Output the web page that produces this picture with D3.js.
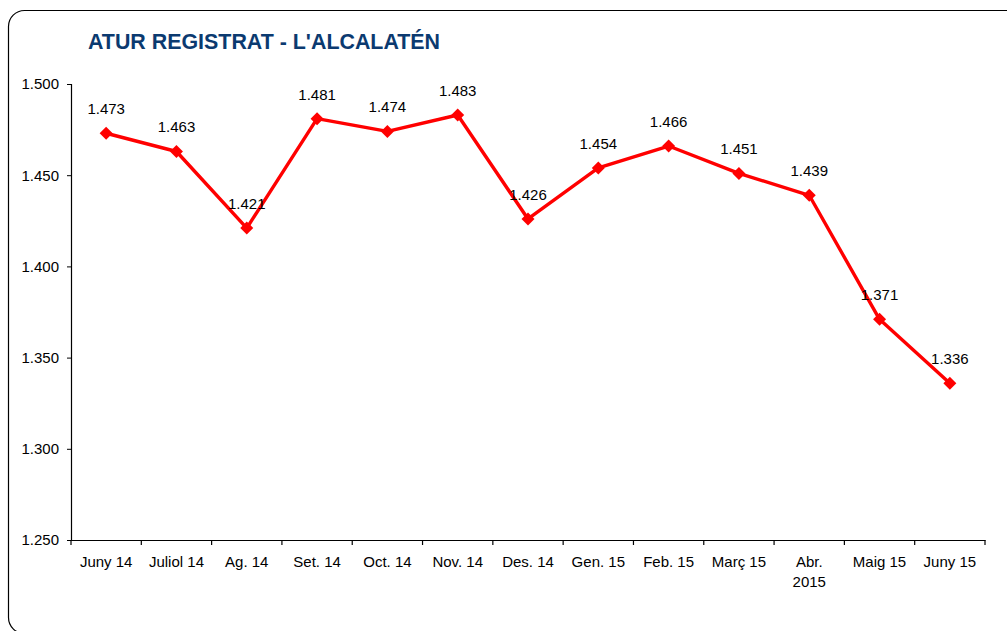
<!doctype html>
<html lang="ca">
<head>
  <meta charset="utf-8">
  <title>Atur registrat - L'Alcalatén</title>
  <script src="https://d3js.org/d3.v7.min.js"></script>
  <style>
    body { margin: 0; background: #fff; }
    text { font-family: "Liberation Sans", Arial, sans-serif; fill: #000; }
  </style>
</head>
<body>
  <svg id="chart" width="1007" height="631"></svg>
  <script>
    // Data
    const months = ["Juny 14", "Juliol 14", "Ag. 14", "Set. 14", "Oct. 14", "Nov. 14", "Des. 14",
      "Gen. 15", "Feb. 15", "Març 15", "Abr. 2015", "Maig 15", "Juny 15"];
    const atur = [1473, 1463, 1421, 1481, 1474, 1483, 1426, 1454, 1466, 1451, 1439, 1371, 1336];
    const yTicks = [1250, 1300, 1350, 1400, 1450, 1500];

    const svg = d3.select("#chart");
    const plotLeft = 71, plotRight = 985, plotTop = 84, plotBottom = 540;

    // Frame with rounded corners (runs off the right edge)
    svg.append("rect")
      .attr("x", 8.5).attr("y", 10.5)
      .attr("width", 1020).attr("height", 623)
      .attr("rx", 16)
      .attr("fill", "none").attr("stroke", "#000").attr("stroke-width", 1.2);

    svg.append("text")
      .attr("x", 88).attr("y", 49)
      .style("font-size", "21.4px").style("font-weight", "bold").style("fill", "#0b3a70")
      .text("ATUR REGISTRAT - L'ALCALATÉN");

    const x = d3.scaleBand().domain(months).range([plotLeft, plotRight]);
    const y = d3.scaleLinear().domain([1250, 1500]).range([plotBottom, plotTop]);
    const loc = d3.formatLocale({ decimal: ",", thousands: ".", grouping: [3], currency: ["", "€"] });
    const fmt = loc.format(",d");

    // Y axis
    const yAxis = svg.append("g")
      .attr("transform", `translate(${plotLeft},0)`)
      .call(d3.axisLeft(y).tickValues(yTicks).tickFormat(fmt).tickSize(4).tickPadding(8));
    yAxis.select(".domain").attr("stroke", "#000").attr("stroke-width", 1.2);
    yAxis.selectAll("text").style("font-size", "15px");

    // X axis
    const xAxis = svg.append("g")
      .attr("transform", `translate(0,${plotBottom})`)
      .call(d3.axisBottom(x).tickSize(0).tickPadding(16));
    xAxis.select(".domain").attr("stroke", "#000").attr("stroke-width", 1.2);
    xAxis.selectAll("text").style("font-size", "15px");
    // split "Abr. 2015" into two lines
    xAxis.selectAll(".tick text").each(function (d) {
      if (d === "Abr. 2015") {
        const t = d3.select(this).text(null);
        t.append("tspan").attr("x", 0).text("Abr.");
        t.append("tspan").attr("x", 0).attr("dy", "1.33em").text("2015");
      }
    });
    // boundary ticks on x axis
    svg.append("g").selectAll("line")
      .data(months.map(m => x(m)).concat([plotRight]))
      .join("line")
      .attr("x1", d => d).attr("x2", d => d)
      .attr("y1", plotBottom).attr("y2", plotBottom + 5)
      .attr("stroke", "#000").attr("stroke-width", 1.2);

    // Line
    const cx = m => x(m) + x.bandwidth() / 2;
    const line = d3.line().x((d, i) => cx(months[i])).y(d => y(d));
    svg.append("path")
      .datum(atur)
      .attr("d", line)
      .attr("fill", "none")
      .attr("stroke", "#ff0000")
      .attr("stroke-width", 3.4)
      .attr("stroke-linejoin", "round");

    // Diamond markers
    svg.append("g").selectAll("path")
      .data(atur)
      .join("path")
      .attr("transform", (d, i) => `translate(${cx(months[i])},${y(d)})`)
      .attr("d", "M0,-6.5L6.5,0L0,6.5L-6.5,0Z")
      .attr("fill", "#ff0000");

    // Value labels
    svg.append("g").selectAll("text")
      .data(atur)
      .join("text")
      .attr("x", (d, i) => cx(months[i]))
      .attr("y", d => y(d) - 19)
      .attr("text-anchor", "middle")
      .style("font-size", "15px")
      .text(d => fmt(d));
  </script>
</body>
</html>
